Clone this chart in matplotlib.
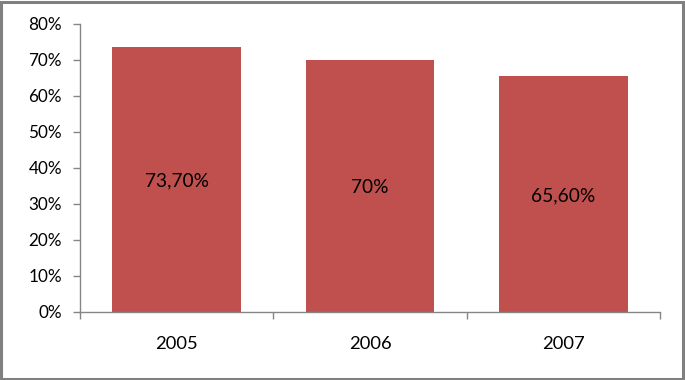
#!/usr/bin/env python3

"""Bar chart of yearly percentages"""

import matplotlib.pyplot as plt
from matplotlib.patches import Rectangle

years = ["2005", "2006", "2007"]
values = [73.7, 70.0, 65.6]
labels = ["73,70%", "70%", "65,60%"]

plt.rcParams["font.family"] = ["Lato", "DejaVu Sans"]

fig = plt.figure(figsize=(6.85, 3.8), dpi=100)
ax = fig.add_axes([80 / 685, 68 / 380, 580 / 685, 288 / 380])

x = range(len(years))
bars = ax.bar(x, values, width=0.667, color="#C0504D")
for b, lab in zip(bars, labels):
    ax.text(b.get_x() + b.get_width() / 2, b.get_height() / 2, lab,
            ha="center", va="center_baseline", fontsize=13.8, color="black")

ax.set_xlim(-0.5, 2.5)
ax.set_ylim(0, 80)
ax.set_yticks(range(0, 81, 10))
ax.set_yticklabels([f"{v}%" for v in range(0, 81, 10)])
ax.set_xticks(list(x))
ax.set_xticklabels(years)
ax.set_xticks([-0.5, 0.5, 1.5, 2.5], minor=True)

for s in ["top", "right"]:
    ax.spines[s].set_visible(False)
for s in ["left", "bottom"]:
    ax.spines[s].set_color("#868686")
    ax.spines[s].set_linewidth(1)

ax.tick_params(axis="y", length=5, width=1, color="#868686", pad=8, labelsize=12.3)
ax.tick_params(axis="x", which="major", length=0, pad=17, labelsize=13.2)
ax.tick_params(axis="x", which="minor", length=5, width=1, color="#868686")

# outer frame
fig.patches.append(Rectangle((0.001, 0.002), 0.996, 0.994, transform=fig.transFigure,
                             fill=False, edgecolor="#808080", linewidth=2.2))

fig.savefig("out.png", dpi=100)
plt.close(fig)
